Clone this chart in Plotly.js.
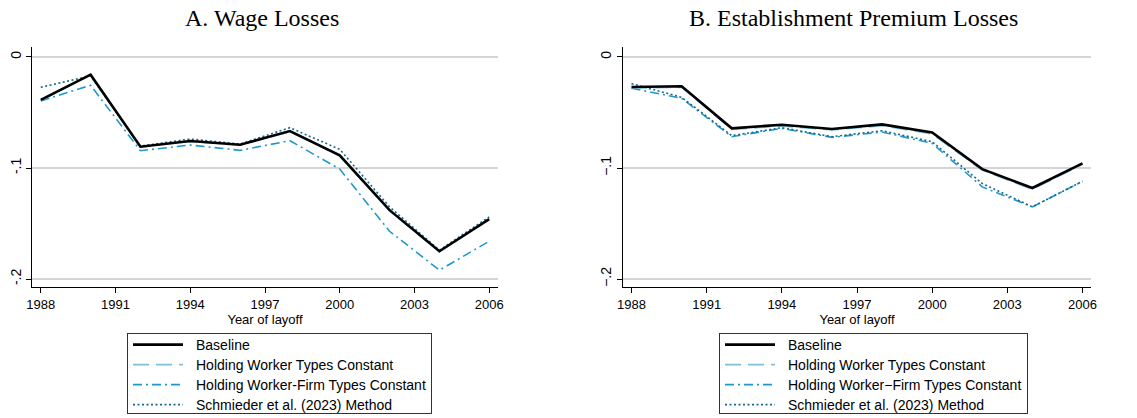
<!DOCTYPE html>
<html>
<head>
<meta charset="utf-8">
<script src="https://cdn.plot.ly/plotly-3.0.1.min.js"></script>
<style>html,body{margin:0;padding:0;background:#fff;}#chart{width:1137px;height:418px;}</style>
</head>
<body>
<div id="chart"></div>
<script>
const years = [1988, 1990, 1992, 1994, 1996, 1998, 2000, 2002, 2004, 2006];
const seriesNames = ["Baseline", "Holding Worker Types Constant", "Holding Worker-Firm Types Constant", "Schmieder et al. (2023) Method"];
const seriesNamesB = ["Baseline", "Holding Worker Types Constant", "Holding Worker\u2212Firm Types Constant", "Schmieder et al. (2023) Method"];

// Panel A: Wage Losses
const wageBaseline   = [-0.0387, -0.0159, -0.0808, -0.0757, -0.0790, -0.0667, -0.0886, -0.1380, -0.1750, -0.1460];
const wageWorker     = [-0.0392, -0.0163, -0.0812, -0.0760, -0.0793, -0.0672, -0.0892, -0.1385, -0.1755, -0.1455];
const wageWorkerFirm = [-0.0396, -0.0255, -0.0844, -0.0793, -0.0841, -0.0754, -0.1010, -0.1570, -0.1920, -0.1660];
const wageSchmieder  = [-0.0273, -0.0171, -0.0802, -0.0739, -0.0784, -0.0637, -0.0832, -0.1350, -0.1740, -0.1440];

// Panel B: Establishment Premium Losses
const premBaseline   = [-0.0270, -0.0264, -0.0643, -0.0610, -0.0649, -0.0607, -0.0679, -0.1010, -0.1180, -0.0958];
const premWorker     = [-0.0279, -0.0273, -0.0652, -0.0622, -0.0658, -0.0619, -0.0694, -0.1019, -0.1192, -0.0967];
const premWorkerFirm = [-0.0282, -0.0372, -0.0718, -0.0643, -0.0724, -0.0676, -0.0778, -0.1170, -0.1350, -0.1120];
const premSchmieder  = [-0.0240, -0.0363, -0.0709, -0.0637, -0.0718, -0.0664, -0.0763, -0.1140, -0.1350, -0.1120];

const xTicks = [1988, 1991, 1994, 1997, 2000, 2003, 2006];
const yTicks = [0, -0.1, -0.2];
const yTickTextA = ["0", "-.1", "-.2"];
const yTickTextB = ["0", "\u2212.1", "\u2212.2"];
const panelTitles = ["A. Wage Losses", "B. Establishment Premium Losses"];
const xTitle = "Year of layoff";

const styles = [
  {color: "#000000", width: 2.6, dash: "solid"},
  {color: "#7cc2df", width: 1.6, dash: "16px,7px"},
  {color: "#2098cf", width: 1.6, dash: "9px,4px,2px,4px"},
  {color: "#17698b", width: 1.6, dash: "2px,2.5px"}
];

function mk(y, i, xa, ya, leg, names) {
  return {
    x: years, y: y, type: "scatter", mode: "lines",
    name: names[i], xaxis: xa, yaxis: ya, legend: leg,
    line: {color: styles[i].color, width: styles[i].width, dash: styles[i].dash}
  };
}

const dataA = [wageBaseline, wageWorker, wageWorkerFirm, wageSchmieder];
const dataB = [premBaseline, premWorker, premWorkerFirm, premSchmieder];
const order = [2, 3, 1, 0];
const traces = [];
order.forEach(i => {
  const t = mk(dataA[i], i, "x", "y", "legend", seriesNames); t.legendrank = i + 1; traces.push(t);
});
order.forEach(i => {
  const t = mk(dataB[i], i, "x2", "y2", "legend2", seriesNamesB); t.legendrank = i + 1; traces.push(t);
});

const axFont = {family: "Liberation Sans, Arial, sans-serif", size: 13, color: "#000"};
function xax(domain, anchor) {
  return {
    domain: domain, anchor: anchor, range: [1987.66, 2006.34],
    tickmode: "array", tickvals: xTicks, ticktext: xTicks.map(String),
    ticks: "outside", ticklen: 5, tickwidth: 1, tickcolor: "#000",
    showline: true, linecolor: "#000", linewidth: 1, mirror: false,
    showgrid: false, zeroline: false, tickfont: axFont,
    title: {text: xTitle, font: axFont, standoff: 0}
  };
}
function yax(domain, anchor, tt) {
  return {
    domain: domain, anchor: anchor, range: [-0.2072, 0.009],
    tickmode: "array", tickvals: yTicks, ticktext: tt, tickangle: -90,
    ticks: "outside", ticklen: 5, tickwidth: 1, tickcolor: "#000",
    showline: true, linecolor: "#000", linewidth: 1,
    showgrid: true, gridcolor: "#d4d4d4", gridwidth: 1.2, zeroline: false,
    tickfont: {family: "Liberation Sans, Arial, sans-serif", size: 14, color: "#000"}
  };
}

const legFont = {family: "Liberation Sans, Arial, sans-serif", size: 14, color: "#000"};
const legCommon = {
  xanchor: "left", yanchor: "top", y: (418 - 333) / 418,
  bordercolor: "#333", borderwidth: 1, bgcolor: "#fff",
  font: legFont, itemwidth: 58, tracegroupgap: 0, traceorder: "normal"
};

const titleFont = {family: "Liberation Serif, Times New Roman, serif", size: 24, color: "#000"};
const layout = {
  width: 1137, height: 418,
  margin: {l: 0, r: 0, t: 0, b: 0, autoexpand: false},
  paper_bgcolor: "#fff", plot_bgcolor: "#fff",
  xaxis: xax([32.3 / 1137, 497.7 / 1137], "y"),
  yaxis: yax([131 / 418, 371 / 418], "x", yTickTextA),
  xaxis2: xax([623 / 1137, 1091 / 1137], "y2"),
  yaxis2: yax([131 / 418, 371 / 418], "x2", yTickTextB),
  legend: Object.assign({x: 127 / 1137}, legCommon),
  legend2: Object.assign({x: 719 / 1137}, legCommon),
  showlegend: true,
  annotations: [
    {text: panelTitles[0], xref: "paper", yref: "paper", x: 262 / 1137, y: (418 - 18) / 418,
     xanchor: "center", yanchor: "middle", showarrow: false, font: titleFont},
    {text: panelTitles[1], xref: "paper", yref: "paper", x: 853 / 1137, y: (418 - 18) / 418,
     xanchor: "center", yanchor: "middle", showarrow: false, font: titleFont}
  ]
};

Plotly.newPlot("chart", traces, layout, {displayModeBar: false, staticPlot: true}).then(gd => {
  // lengthen legend line samples to match the reference key length
  gd.querySelectorAll(".legendlines path").forEach(p => p.setAttribute("d", "M5,0h50"));
  // tighten legend row spacing (reference rows ~20px apart, box ~80px tall)
  ["legend", "legend2"].forEach(cls => {
    const g = gd.querySelector("g." + cls);
    if (!g) return;
    const items = Array.from(g.querySelectorAll("g.traces")).map(it => {
      const m = /translate\(\s*([-\d.]+)[ ,]+([-\d.]+)\s*\)/.exec(it.getAttribute("transform") || "");
      return {it: it, x: m ? +m[1] : 0, y: m ? +m[2] : 0};
    }).sort((a, b) => a.y - b.y);
    if (!items.length) return;
    const y0 = items[0].y - 5;
    items.forEach((o, i) => o.it.setAttribute("transform", "translate(" + o.x + "," + (y0 + i * 20) + ")"));
    const bg = g.querySelector("rect.bg");
    if (bg) bg.setAttribute("height", 80);
  });
});
</script>
</body>
</html>
